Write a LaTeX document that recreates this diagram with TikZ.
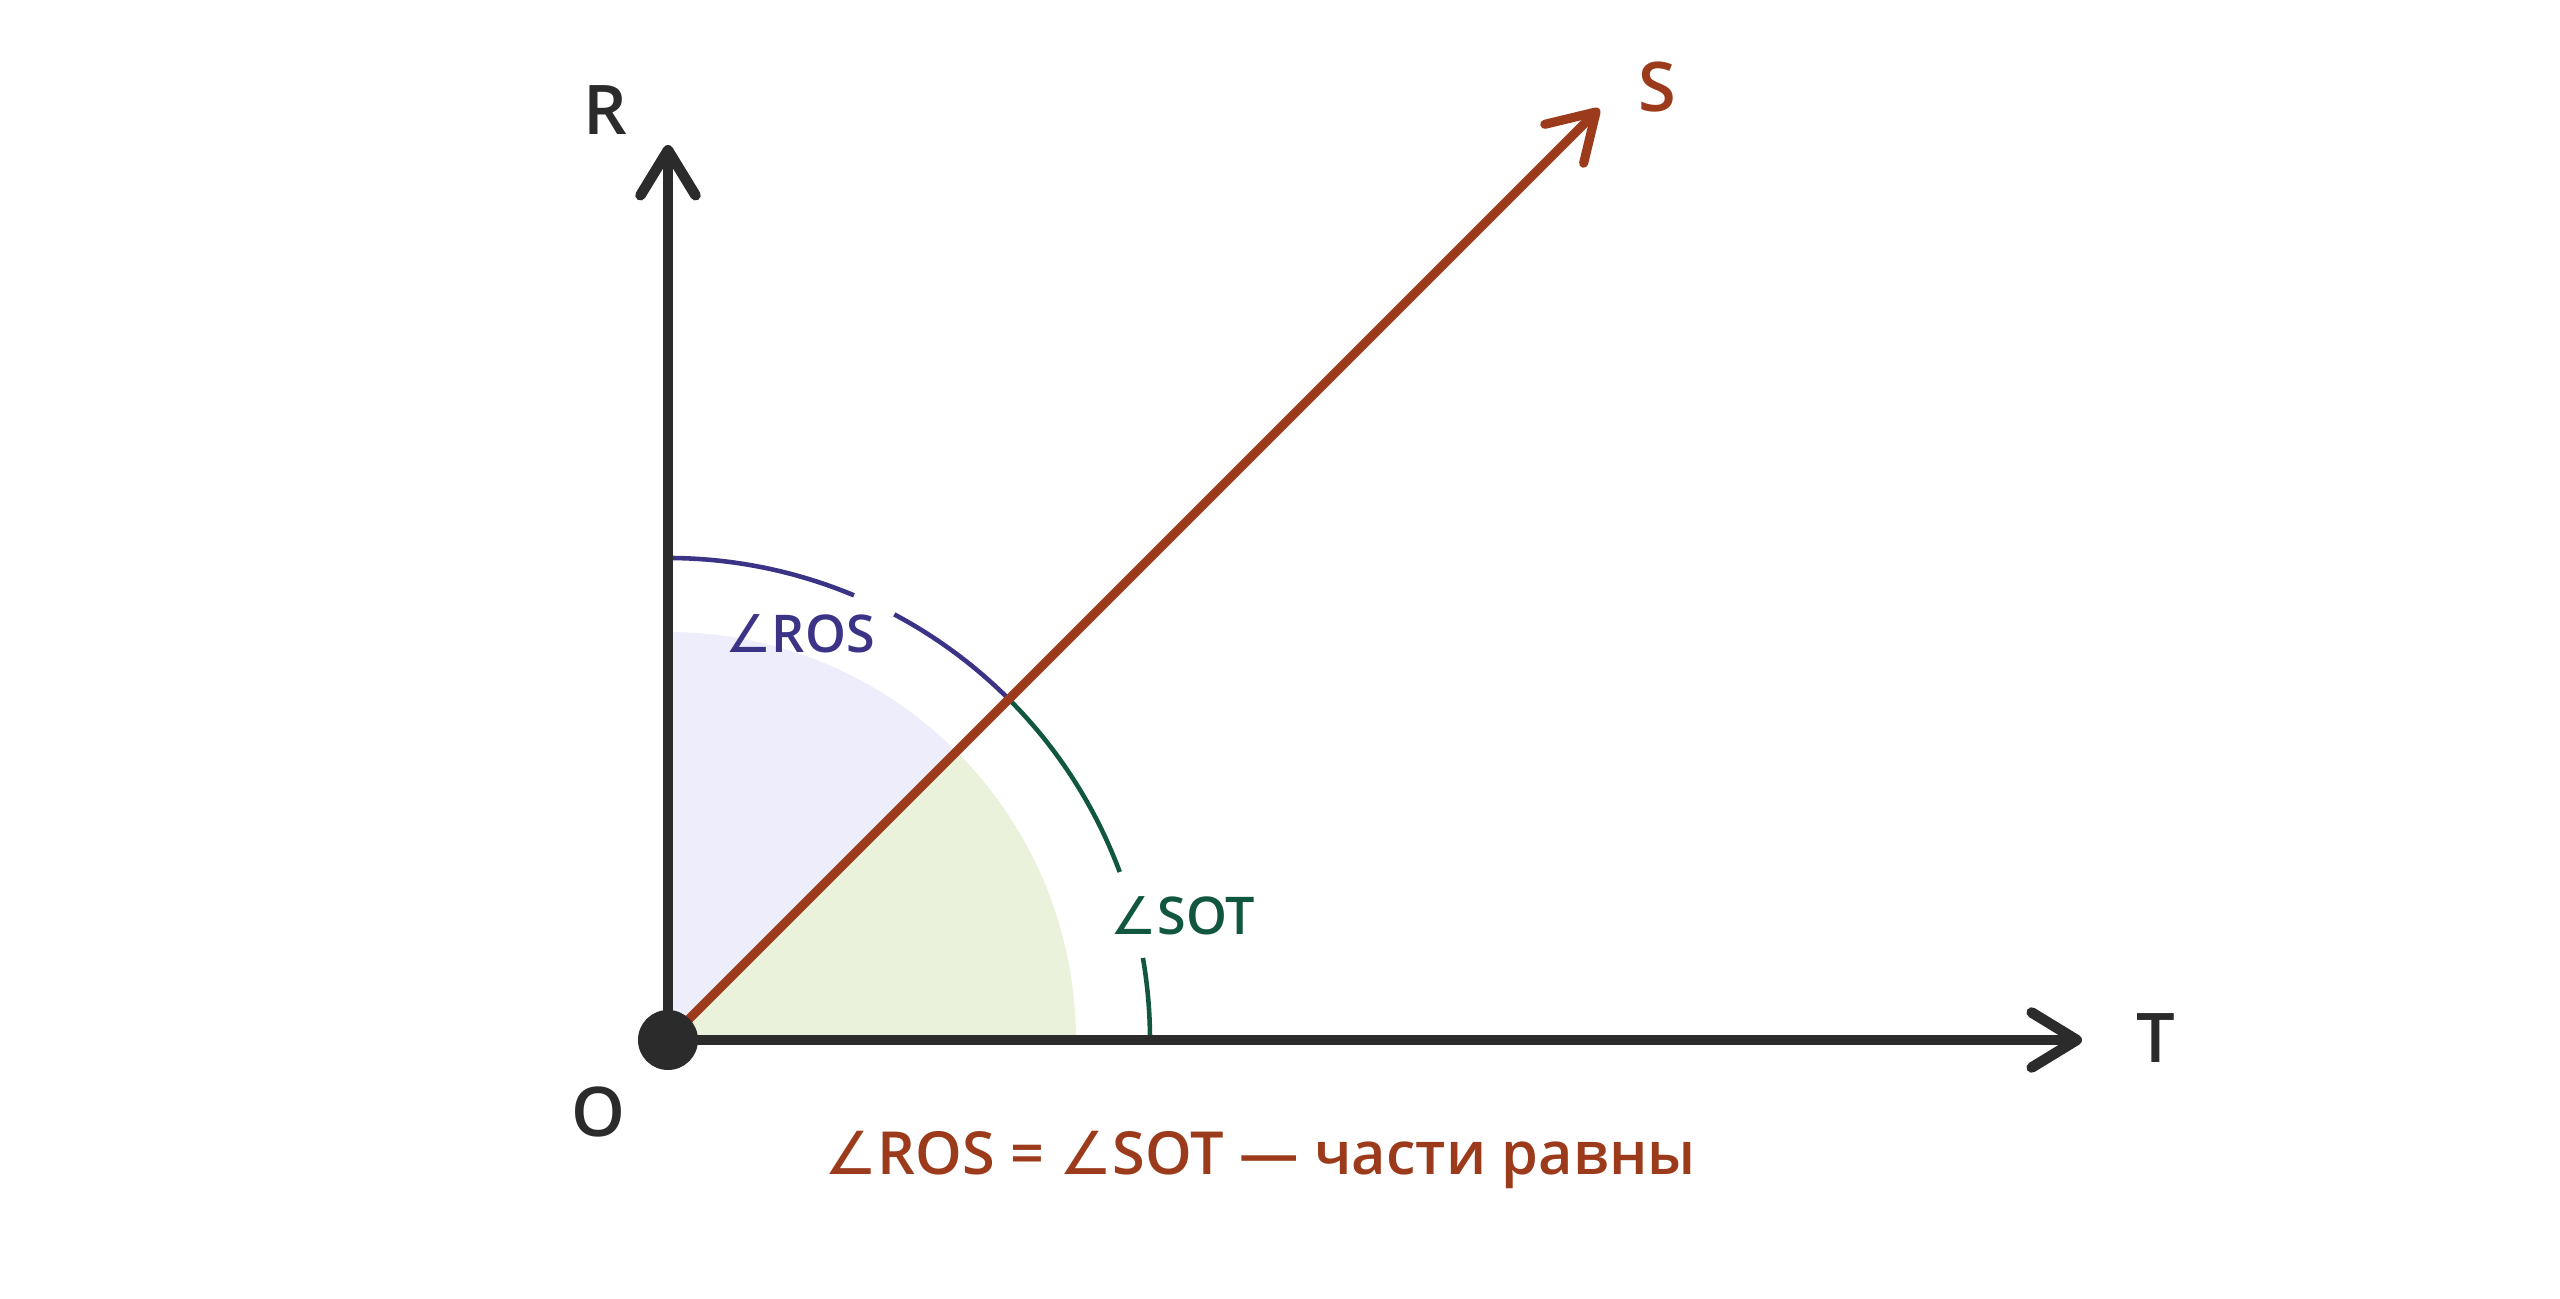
\documentclass[tikz,border=0pt]{standalone}
\usepackage{fontspec}
\setmainfont{Open Sans}[UprightFont={* Semibold}]
\newfontfamily\symfont{DejaVu Sans}
\usepackage{xcolor}
\usepackage{tikz}
\usetikzlibrary{arrows.meta}
\newcommand{\Ang}{{\symfont ∠}}

\definecolor{axisgray}{HTML}{2B2B2B}
\definecolor{rayred}{HTML}{9C3B1B}
\definecolor{rospurple}{HTML}{3B3486}
\definecolor{sotgreen}{HTML}{11573F}
\definecolor{rosfill}{HTML}{EDEDFC}
\definecolor{sotfill}{HTML}{EAF2DC}

\begin{document}
\begin{tikzpicture}[x=1cm,y=1cm,
        font=\fontsize{19.5}{23}\selectfont,
        barb/.style={-{Straight Barb[length=0.45cm,width=0.55cm,line cap=round,line join=round]}},
        arcline/.style={line width=1.3pt}]
                \useasboundingbox (-6.68,-2.59) rectangle (18.92,10.40);
                \coordinate (O) at (0,0);
                \coordinate (R) at (0,8.95);
                \coordinate (T) at (14.14,0);
                \coordinate (S) at (45:13.17);
                \fill[rosfill] (O) -- (45:4.08) arc (45:90:4.08) -- cycle;
                \fill[sotfill] (O) -- (4.08,0) arc (0:45:4.08) -- cycle;
                \draw[arcline, rospurple](90:4.82) arc (90:67.3:4.82);
                \draw[arcline, rospurple](62:4.82) arc (62:45:4.82);
                \draw[arcline, sotgreen](45:4.82) arc (45:20.4:4.82);
                \draw[arcline, sotgreen](9.8:4.82) arc (9.8:0:4.82);
                \draw[barb, axisgray, line width = 3pt](O)--(R);
                \draw[barb, axisgray, line width = 3pt](O)--(T);
                \draw[barb, rayred, line width = 2.6pt](O)--(S);
                \fill[axisgray] (O) circle (0.30);
                \node[axisgray] (Rlab) at (-0.63,9.30) {R};
                \node[rayred] (Slab) at (9.89,9.53) {S};
                \node[axisgray] (Tlab) at (14.88,0.02) {T};
                \node[axisgray] (Olab) at (-0.70,-0.72) {O};
                \node[rospurple, font=\fontsize{14.8}{18}\selectfont] (ros) at (1.32,4.06) {\Ang ROS};
                \node[sotgreen, font=\fontsize{14.8}{18}\selectfont] (sot) at (5.15,1.24) {\Ang SOT};
                \node[rayred, font=\fontsize{16.9}{20}\selectfont] (eq) at (5.92,-1.20) {\Ang ROS = \Ang SOT — части равны};
            \end{tikzpicture}
\end{document}
